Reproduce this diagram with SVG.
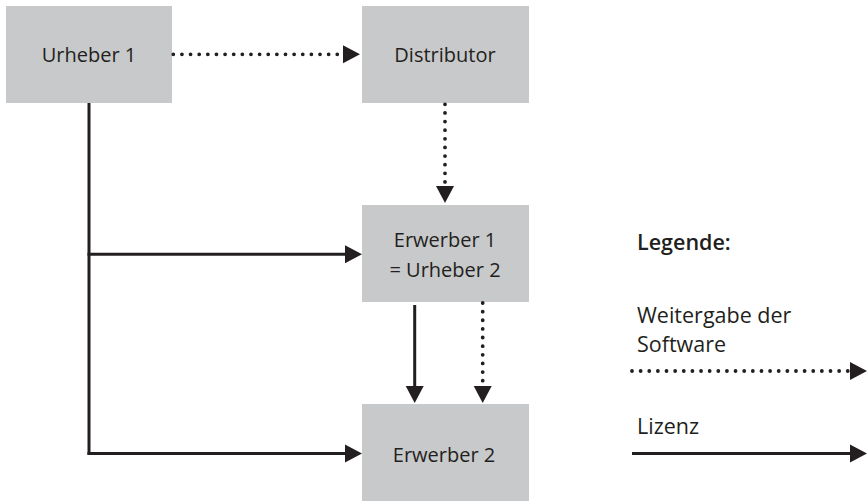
<svg xmlns="http://www.w3.org/2000/svg" width="867" height="501" viewBox="0 0 867 501">
  <style>
    .box { fill: #c8c9cb; }
    .label { font-family: "Open Sans", "Liberation Sans", sans-serif; font-size: 20px; fill: #231f20; text-anchor: middle; }
    .legend { font-family: "Open Sans", "Liberation Sans", sans-serif; font-size: 21.5px; fill: #231f20; }
    .legend-title { font-weight: 600; }
    .solid { stroke: #231f20; stroke-width: 3; fill: none; }
    .dotted { stroke: #231f20; stroke-width: 3.8; fill: none; stroke-linecap: round; stroke-dasharray: 0 8.63; }
  </style>
  <defs>
    <marker id="arrow" markerUnits="userSpaceOnUse" markerWidth="18" markerHeight="18" refX="0" refY="9" orient="auto" overflow="visible">
      <path d="M0,0 L17,9 L0,18 Z" fill="#231f20"/>
    </marker>
  </defs>
  <rect width="867" height="501" fill="#ffffff"/>

  <g id="urheber1">
    <rect class="box" x="6" y="6" width="166" height="97"/>
    <text class="label" x="89" y="62">Urheber 1</text>
  </g>
  <g id="distributor">
    <rect class="box" x="362" y="6" width="167" height="97"/>
    <text class="label" x="445" y="62">Distributor</text>
  </g>
  <g id="erwerber1">
    <rect class="box" x="362" y="205" width="167" height="97"/>
    <text class="label" x="445" y="247">Erwerber 1</text>
    <text class="label" x="445" y="277">= Urheber 2</text>
  </g>
  <g id="erwerber2">
    <rect class="box" x="362" y="404" width="167" height="97"/>
    <text class="label" x="444" y="462">Erwerber 2</text>
  </g>

  <g id="connectors">
    <!-- Urheber 1 to Distributor: transfer -->
    <line class="dotted" x1="173.3" y1="54.3" x2="343" y2="54.3" marker-end="url(#arrow)"/>
    <!-- Distributor to Erwerber 1: transfer -->
    <line class="dotted" x1="445" y1="104.3" x2="445" y2="186" marker-end="url(#arrow)"/>
    <!-- Urheber 1 licence trunk -->
    <line class="solid" x1="89" y1="103" x2="89" y2="455"/>
    <line class="solid" x1="87.5" y1="254.3" x2="345" y2="254.3" marker-end="url(#arrow)"/>
    <line class="solid" x1="87.5" y1="453.5" x2="345" y2="453.5" marker-end="url(#arrow)"/>
    <!-- Erwerber 1 to Erwerber 2 -->
    <line class="solid" x1="414.7" y1="305" x2="414.7" y2="386" marker-end="url(#arrow)"/>
    <line class="dotted" x1="482.7" y1="303" x2="482.7" y2="386" marker-end="url(#arrow)"/>
  </g>

  <g id="legend">
    <text class="legend legend-title" x="637" y="250">Legende:</text>
    <text class="legend" x="637" y="323">Weitergabe der</text>
    <text class="legend" x="637" y="352">Software</text>
    <line class="dotted" x1="632" y1="371" x2="850" y2="371" marker-end="url(#arrow)"/>
    <text class="legend" x="637" y="434">Lizenz</text>
    <line class="solid" x1="632" y1="453.5" x2="850" y2="453.5" marker-end="url(#arrow)"/>
  </g>
</svg>
